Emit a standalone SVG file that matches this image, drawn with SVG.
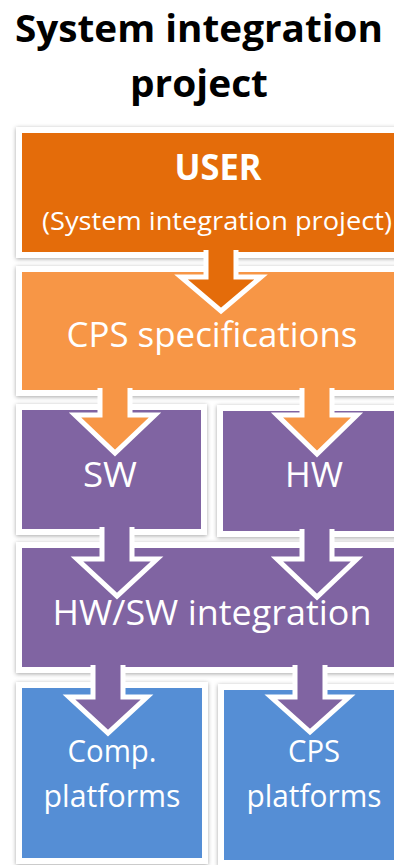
<svg xmlns="http://www.w3.org/2000/svg" width="394" height="865" viewBox="0 0 394 865">
<defs>
<filter id="sh" x="-10%" y="-10%" width="120%" height="120%">
<feDropShadow dx="0" dy="1" stdDeviation="2" flood-color="#000" flood-opacity="0.35"/>
</filter>
<style>
.frame{fill:#fff;filter:url(#sh)}
.o1{fill:#E46C0A}
.o2{fill:#F79646}
.pu{fill:#8064A2}
.bl{fill:#558ED5}
.arr{stroke:#fff;stroke-width:5;stroke-linejoin:miter}
.t{font-family:"Open Sans","Liberation Sans",sans-serif;fill:#fff;text-anchor:middle}
.title{font-family:"Open Sans","Liberation Sans",sans-serif;font-weight:bold;fill:#000;text-anchor:middle}
</style>
</defs>
<rect width="394" height="865" fill="#fff"/>
<g id="title">
<text class="title" x="199" y="42" font-size="38" textLength="368" lengthAdjust="spacingAndGlyphs">System integration</text>
<text class="title" x="199" y="97" font-size="38" textLength="138" lengthAdjust="spacingAndGlyphs">project</text>
</g>
<g id="user">
<rect class="frame" x="16" y="127" width="420" height="131"/>
<rect class="o1" x="22" y="133" width="420" height="119"/>
<text class="t" x="218" y="180" font-size="35" font-weight="bold" textLength="87" lengthAdjust="spacingAndGlyphs">USER</text>
<text class="t" x="217" y="230" font-size="26" textLength="350" lengthAdjust="spacingAndGlyphs">(System integration project)</text>
</g>
<g id="cps-spec">
<rect class="frame" x="16" y="266" width="420" height="130"/>
<rect class="o2" x="22" y="272" width="420" height="118"/>
<text class="t" x="212" y="347" font-size="35" textLength="291" lengthAdjust="spacingAndGlyphs">CPS specifications</text>
</g>
<g id="sw">
<rect class="frame" x="16" y="404" width="191" height="131"/>
<rect class="pu" x="22" y="410" width="179" height="119"/>
<text class="t" x="110" y="487" font-size="35" textLength="54" lengthAdjust="spacingAndGlyphs">SW</text>
</g>
<g id="hw">
<rect class="frame" x="217" y="405" width="220" height="132"/>
<rect class="pu" x="223" y="411" width="220" height="120"/>
<text class="t" x="314" y="487" font-size="35" textLength="58" lengthAdjust="spacingAndGlyphs">HW</text>
</g>
<g id="integration">
<rect class="frame" x="16" y="542" width="420" height="131"/>
<rect class="pu" x="22" y="548" width="420" height="119"/>
<text class="t" x="212" y="625" font-size="35" textLength="319" lengthAdjust="spacingAndGlyphs">HW/SW integration</text>
</g>
<g id="comp-platforms">
<rect class="frame" x="16" y="682" width="192" height="182"/>
<rect class="bl" x="22" y="688" width="180" height="170"/>
<text class="t" x="112" y="762" font-size="31" textLength="89" lengthAdjust="spacingAndGlyphs">Comp.</text>
<text class="t" x="112" y="807" font-size="31" textLength="137" lengthAdjust="spacingAndGlyphs">platforms</text>
</g>
<g id="cps-platforms">
<rect class="frame" x="218" y="684" width="220" height="182"/>
<rect class="bl" x="224" y="690" width="220" height="170"/>
<text class="t" x="314" y="762" font-size="31" textLength="52" lengthAdjust="spacingAndGlyphs">CPS</text>
<text class="t" x="314" y="807" font-size="31" textLength="135" lengthAdjust="spacingAndGlyphs">platforms</text>
</g>
<g id="connectors">
<path class="arr o1" d="M206,250 V277 H181 L221,311 L261,277 H236 V250"/>
<path class="arr o2" d="M100,388 V415 H75 L115,453 L155,415 H130 V388"/>
<path class="arr o2" d="M302,388 V415 H277 L317,454 L357,415 H332 V388"/>
<path class="arr pu" d="M102,527 V559 H77 L117,596 L157,559 H132 V527"/>
<path class="arr pu" d="M302,529 V559 H277 L317,597 L357,559 H332 V529"/>
<path class="arr pu" d="M93,665 V697 H69 L108,733 L147,697 H123 V665"/>
<path class="arr pu" d="M295,665 V697 H271 L310,732 L349,697 H325 V665"/>
</g>
</svg>
